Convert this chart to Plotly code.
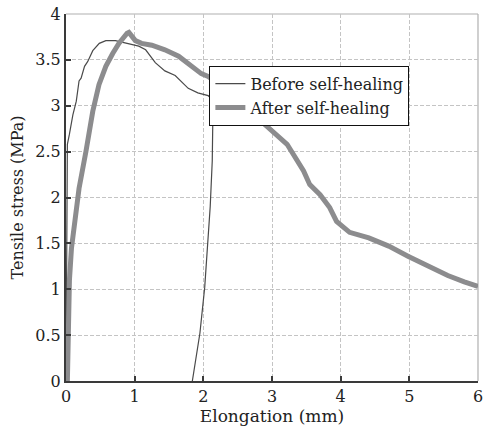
import plotly.graph_objects as go

# Tensile stress vs elongation, before and after self-healing
before_x = [0.0, 0.005, 0.01, 0.02, 0.05, 0.10, 0.15, 0.19, 0.22, 0.27, 0.315, 0.39, 0.485,
            0.58, 0.72, 0.87, 1.06, 1.16, 1.30, 1.44, 1.59, 1.78, 1.92, 2.07, 2.12,
            2.14, 2.13, 2.10, 2.07, 2.02, 1.95, 1.84]
before_y = [0.0, 1.2, 2.2, 2.58, 2.69, 2.90, 3.05, 3.27, 3.30, 3.43, 3.48, 3.60, 3.68,
            3.71, 3.71, 3.68, 3.65, 3.61, 3.47, 3.38, 3.33, 3.19, 3.14, 3.11, 3.08,
            2.95, 2.40, 1.90, 1.53, 1.02, 0.52, 0.0]

after_x = [0.02, 0.03, 0.05, 0.08, 0.125, 0.19, 0.29, 0.39, 0.48, 0.58, 0.68, 0.77, 0.89,
           0.916, 1.01, 1.10, 1.25, 1.44, 1.64, 1.83, 1.97, 2.07, 2.30, 2.50, 2.71,
           2.98, 3.22, 3.46, 3.55, 3.70, 3.84, 3.94, 4.13, 4.41, 4.70, 4.98, 5.27,
           5.56, 5.80, 6.00]
after_y = [0.0, 0.6, 1.1, 1.45, 1.74, 2.10, 2.50, 2.94, 3.23, 3.43, 3.57, 3.68, 3.79,
           3.80, 3.71, 3.68, 3.66, 3.61, 3.54, 3.44, 3.35, 3.32, 3.20, 3.06, 2.92,
           2.74, 2.58, 2.29, 2.14, 2.03, 1.89, 1.74, 1.62, 1.56, 1.47, 1.36, 1.25,
           1.15, 1.08, 1.03]

x_ticks = [0, 1, 2, 3, 4, 5, 6]
y_ticks = [0, 0.5, 1, 1.5, 2, 2.5, 3, 3.5, 4]
y_tick_text = ["0", "0.5", "1", "1.5", "2", "2.5", "3", "3.5", "4"]

FONT = "DejaVu Serif"

fig = go.Figure()
fig.add_trace(go.Scatter(
    x=before_x, y=before_y, mode="lines", name="Before self-healing",
    line=dict(color="#4a4a4a", width=1.2),
))
fig.add_trace(go.Scatter(
    x=after_x, y=after_y, mode="lines", name="After self-healing",
    line=dict(color="#8c8c8e", width=5),
))

axis_common = dict(
    showgrid=True, gridcolor="#c4c4c4", griddash="4px,2px", gridwidth=1,
    showline=True, linecolor="#3a3a3a", linewidth=2,
    ticks="inside", ticklen=5, tickcolor="#3a3a3a", tickwidth=1.5,
    zeroline=False, mirror=False, ticklabeloverflow="allow",
    tickfont=dict(family=FONT, size=16, color="#222"),
)

fig.update_xaxes(
    range=[0, 6], tickvals=x_ticks, ticktext=[str(v) for v in x_ticks],
    title=dict(text="Elongation (mm)", font=dict(family=FONT, size=17, color="#222"), standoff=2),
    **axis_common,
)
fig.update_yaxes(
    range=[0, 4], tickvals=y_ticks, ticktext=y_tick_text,
    title=dict(text="Tensile stress (MPa)", font=dict(family=FONT, size=16, color="#222"), standoff=8),
    **axis_common,
)

# light frame on the top and right sides of the plotting area
fig.add_shape(type="line", xref="paper", yref="paper", x0=0, x1=1, y0=1, y1=1,
              line=dict(color="#b0b0b0", width=1.2), layer="below")
fig.add_shape(type="line", xref="paper", yref="paper", x0=1, x1=1, y0=0, y1=1,
              line=dict(color="#b0b0b0", width=1.2), layer="below")

fig.update_layout(
    width=488, height=435,
    margin=dict(l=66, r=5, t=12, b=54),
    plot_bgcolor="white", paper_bgcolor="white",
    showlegend=True,
    legend=dict(
        x=0.348, y=0.859, xanchor="left", yanchor="top",
        bgcolor="white", bordercolor="#111", borderwidth=1,
        font=dict(family=FONT, size=16, color="#222"),
        tracegroupgap=0, itemwidth=30,
    ),
)

fig.write_html("out.html")
